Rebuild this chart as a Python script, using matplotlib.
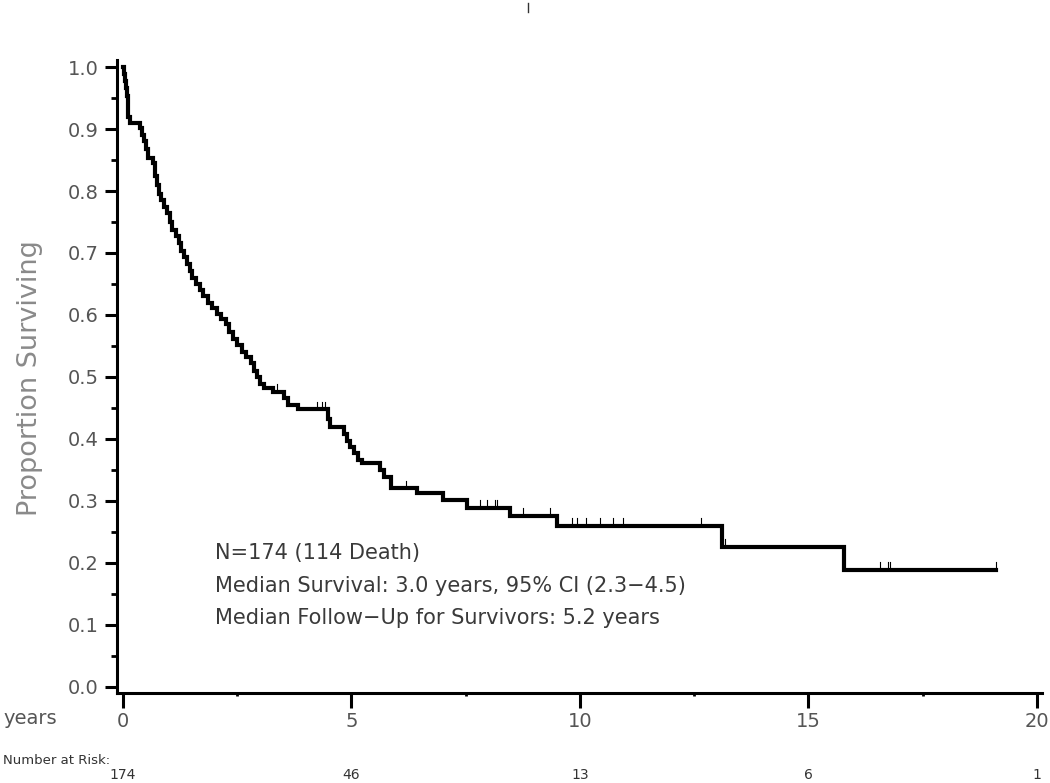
import matplotlib
matplotlib.use('Agg')
import matplotlib.pyplot as plt
from matplotlib.lines import Line2D
import numpy as np

# step times (years) and survival level after each drop
times = [0.00, 0.02, 0.04, 0.06, 0.08, 0.10, 0.12, 0.15, 0.37, 0.41, 0.45, 0.50,
         0.55, 0.66, 0.70, 0.74, 0.78, 0.83, 0.90, 0.96, 1.02, 1.08, 1.15, 1.22,
         1.28, 1.33, 1.40, 1.46, 1.52, 1.60, 1.68, 1.76, 1.85, 1.95, 2.05, 2.14,
         2.25, 2.32, 2.40, 2.50, 2.60, 2.70, 2.80, 2.86, 2.93, 3.00, 3.08, 3.28,
         3.52, 3.60, 3.83, 4.48, 4.52, 4.83, 4.90, 4.97, 5.05, 5.15, 5.22, 5.62,
         5.72, 5.86, 6.43, 7.00, 7.53, 8.47, 9.50, 13.10, 15.78]
surv = [1.000, 0.988, 0.977, 0.966, 0.954, 0.937, 0.920, 0.910, 0.902, 0.891, 0.880, 0.868,
        0.853, 0.845, 0.825, 0.810, 0.795, 0.785, 0.775, 0.764, 0.750, 0.737, 0.728, 0.716,
        0.704, 0.693, 0.683, 0.671, 0.659, 0.650, 0.641, 0.630, 0.620, 0.611, 0.602, 0.593,
        0.585, 0.572, 0.561, 0.551, 0.541, 0.533, 0.523, 0.510, 0.500, 0.489, 0.482, 0.476,
        0.466, 0.455, 0.448, 0.432, 0.419, 0.408, 0.397, 0.387, 0.377, 0.366, 0.361, 0.350,
        0.339, 0.321, 0.313, 0.302, 0.289, 0.276, 0.260, 0.226, 0.189]
last_time = 19.1

# censored observations
censor_times = [3.37, 4.24, 4.35, 4.42, 6.19, 7.81, 7.97, 8.14, 8.18, 8.75, 9.34,
                9.83, 9.93, 10.13, 10.44, 10.72, 10.94, 12.65, 13.17, 16.56, 16.74,
                16.78, 19.1]

risk_times = [0, 5, 10, 15, 20]
risk_counts = [174, 46, 13, 6, 1]

info_lines = ["N=174 (114 Death)",
              "Median Survival: 3.0 years, 95% CI (2.3\u22124.5)",
              "Median Follow\u2212Up for Survivors: 5.2 years"]

W, H = 1050, 783
fig = plt.figure(figsize=(W / 100, H / 100), dpi=100)
ax = fig.add_axes([117 / W, 90 / H, (1042 - 117) / W, (693 - 60) / H])

xs = times + [last_time]
ys = surv + [surv[-1]]
ax.step(xs, ys, where='post', color='black', lw=3.0, solid_joinstyle='miter')

# censor marks: small vertical ticks above the curve
t_arr = np.array(times)
for ct in censor_times:
    s = surv[np.searchsorted(t_arr, ct, side='right') - 1]
    ax.plot([ct, ct], [s, s + 0.012], color='black', lw=0.8)

ax.set_xlim(-0.131, 20.11)
ax.set_ylim(-0.0097, 1.0113)

for side in ['top', 'right']:
    ax.spines[side].set_visible(False)
for side in ['left', 'bottom']:
    ax.spines[side].set_linewidth(2.2)

ax.set_yticks(np.arange(0, 1.01, 0.1))
ax.set_yticks(np.arange(0.05, 1.0, 0.1), minor=True)
ax.set_yticklabels(['%.1f' % v for v in np.arange(0, 1.01, 0.1)])
ax.set_xticks([0, 5, 10, 15, 20])
ax.set_xticks([2.5, 7.5, 12.5, 17.5], minor=True)

ax.tick_params(axis='y', which='major', length=9, width=2.2, direction='out',
               labelsize=14, labelcolor='#555555', pad=4)
ax.tick_params(axis='y', which='minor', length=4, width=2.0, direction='out')
ax.tick_params(axis='x', which='major', length=11, width=2.2, direction='out',
               labelsize=14, labelcolor='#555555', pad=3)
ax.tick_params(axis='x', which='minor', length=2, width=2.0, direction='out')

fig.text(30 / W, 1 - 378 / H, 'Proportion Surviving', rotation=90, fontsize=19.5,
         color='#8a8a8a', ha='center', va='center')
fig.text(3 / W, 1 - 718 / H, 'years', fontsize=14, color='#555555', ha='left', va='center')
fig.text(3 / W, 1 - 760 / H, 'Number at Risk:', fontsize=9.5, color='#333333',
         ha='left', va='center')
for t, n in zip(risk_times, risk_counts):
    ax.text(t, -(775 - 693) / (693 - 60), str(n), transform=ax.get_xaxis_transform(),
            fontsize=10, color='#333333', ha='center', va='center')

for i, line in enumerate(info_lines):
    fig.text(215 / W, 1 - (553 + 32.5 * i) / H, line, fontsize=15,
             color='#3a3a3a', ha='left', va='center')

# stray mark at the top of the page
fig.add_artist(Line2D([528 / W, 528 / W], [1 - 3 / H, 1 - 12 / H], color='#333333', lw=1))

fig.savefig('out.png', dpi=100)
